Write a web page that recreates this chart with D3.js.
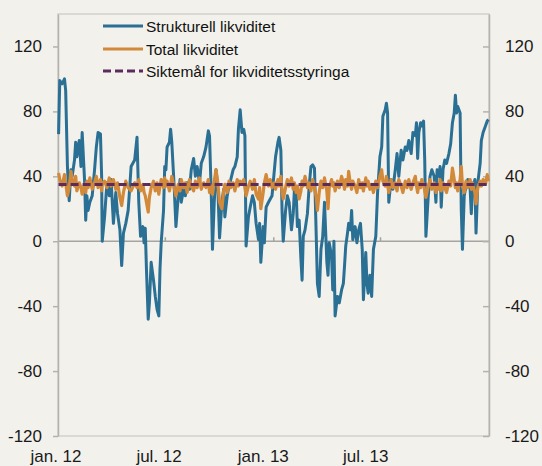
<!DOCTYPE html>
<html>
<head>
<meta charset="utf-8">
<script src="https://cdn.jsdelivr.net/npm/d3@7"></script>
<style>
  html, body { margin: 0; padding: 0; background: #f3f1ec; }
  svg { display: block; font-family: "Liberation Sans", Arial, sans-serif; }
</style>
</head>
<body>
<svg id="chart"></svg>
<script>
"use strict";

// dates of the observations
var dates = [
  "2012-01-02","2012-01-04","2012-01-08","2012-01-12","2012-01-14","2012-01-17","2012-01-20","2012-01-23","2012-01-25","2012-01-29",
  "2012-01-31","2012-02-02","2012-02-06","2012-02-09","2012-02-11","2012-02-15","2012-02-17","2012-02-19","2012-02-21","2012-02-24",
  "2012-02-28","2012-03-03","2012-03-06","2012-03-09","2012-03-13","2012-03-15","2012-03-16","2012-03-20","2012-03-24","2012-03-28",
  "2012-03-31","2012-04-04","2012-04-08","2012-04-11","2012-04-15","2012-04-18","2012-04-21","2012-04-25","2012-04-29","2012-05-04",
  "2012-05-10","2012-05-14","2012-05-17","2012-05-20","2012-05-24","2012-05-26","2012-05-28","2012-05-30","2012-06-02","2012-06-04",
  "2012-06-07","2012-06-11","2012-06-14","2012-06-17","2012-06-20","2012-06-22","2012-06-24","2012-06-28","2012-06-30","2012-07-02",
  "2012-07-04","2012-07-08","2012-07-10","2012-07-12","2012-07-16","2012-07-19","2012-07-23","2012-07-26","2012-07-28","2012-08-01",
  "2012-08-04","2012-08-07","2012-08-11","2012-08-14","2012-08-18","2012-08-21","2012-08-24","2012-08-28","2012-08-31","2012-09-04",
  "2012-09-08","2012-09-12","2012-09-14","2012-09-17","2012-09-19","2012-09-22","2012-09-25","2012-09-28","2012-10-01","2012-10-05",
  "2012-10-08","2012-10-10","2012-10-14","2012-10-17","2012-10-20","2012-10-24","2012-10-27","2012-10-31","2012-11-02","2012-11-05",
  "2012-11-08","2012-11-11","2012-11-13","2012-11-15","2012-11-19","2012-11-22","2012-11-26","2012-11-29","2012-12-02","2012-12-06",
  "2012-12-08","2012-12-10","2012-12-14","2012-12-16","2012-12-19","2012-12-23","2012-12-26","2012-12-29","2013-01-02","2013-01-04",
  "2013-01-08","2013-01-10","2013-01-13","2013-01-15","2013-01-17","2013-01-21","2013-01-24","2013-01-27","2013-01-31","2013-02-03",
  "2013-02-05","2013-02-08","2013-02-10","2013-02-13","2013-02-16","2013-02-18","2013-02-20","2013-02-23","2013-02-27","2013-03-02",
  "2013-03-05","2013-03-08","2013-03-11","2013-03-14","2013-03-16","2013-03-19","2013-03-22","2013-03-25","2013-03-28","2013-04-01",
  "2013-04-03","2013-04-05","2013-04-09","2013-04-11","2013-04-13","2013-04-15","2013-04-19","2013-04-22","2013-04-26","2013-04-29",
  "2013-05-01","2013-05-03","2013-05-06","2013-05-08","2013-05-11","2013-05-13","2013-05-15","2013-05-19","2013-05-22","2013-05-25",
  "2013-05-28","2013-05-31","2013-06-02","2013-06-06","2013-06-08","2013-06-10","2013-06-13","2013-06-16","2013-06-19","2013-06-23",
  "2013-06-26","2013-06-30","2013-07-03","2013-07-05","2013-07-09","2013-07-11","2013-07-13","2013-07-15","2013-07-19","2013-07-22",
  "2013-07-26","2013-07-29","2013-08-01","2013-08-05","2013-08-08","2013-08-12","2013-08-15","2013-08-18","2013-08-22","2013-08-25",
  "2013-08-29","2013-08-31","2013-09-02","2013-09-04","2013-09-07","2013-09-09","2013-09-12","2013-09-14","2013-09-16","2013-09-20",
  "2013-09-23","2013-09-26","2013-09-30","2013-10-03","2013-10-05","2013-10-08","2013-10-10","2013-10-12","2013-10-15","2013-10-18",
  "2013-10-21","2013-10-25","2013-10-28","2013-10-31","2013-11-03","2013-11-05","2013-11-07","2013-11-09","2013-11-13","2013-11-15",
  "2013-11-17","2013-11-20","2013-11-23","2013-11-26","2013-11-30","2013-12-02","2013-12-04","2013-12-08","2013-12-10","2013-12-13",
  "2013-12-17","2013-12-19","2013-12-22","2013-12-26","2013-12-29","2013-12-31"
];

// Strukturell likviditet, mrd. kroner
var strukturell = [
  66, 99, 97, 100, 93, 46, 25, 44, 40, 50,
  61, 52, 62, 46, 67, 38, 13, 28, 19, 24,
  28, 44, 58, 67, 66, 40, 0, 15, 36, 28,
  38, 11, 30, 17, 7, -15, 5, 11, 19, 46,
  50, 64, 24, 3, 9, -1, 8, -17, -48, -38,
  -13, -24, -34, -42, -46, -17, -1, 19, 46, 44,
  58, 61, 69, 61, 34, 9, 28, 38, 24, 32,
  28, 36, 32, 44, 51, 40, 46, 36, 48, 52,
  58, 68, 65, 28, -5, 24, 44, 34, 2, 24,
  32, 15, 28, 34, 38, 44, 46, 52, 69, 81,
  67, 69, 65, -3, 15, 21, 28, 24, 11, 1,
  11, -13, 9, -1, 21, 24, 26, 28, 44, 52,
  61, 64, 56, 19, 0, 19, 28, 24, 7, 17,
  32, 30, 9, 13, -11, -24, 3, 7, 17, 34,
  46, 47, 45, 3, -26, -34, -5, 3, 24, -13,
  -21, -1, -9, -30, 0, -46, -34, -38, -30, -26,
  -15, -3, 5, 11, 7, 19, 1, 9, -1, 7,
  11, -5, -36, -7, -26, -32, -21, -34, -5, 3,
  30, 52, 58, 77, 81, 85, 79, 24, 38, 32,
  44, 54, 40, 56, 50, 58, 56, 62, 54, 67,
  65, 73, 51, 67, 73, 71, 74, 50, 3, 28,
  40, 44, 40, 24, 44, 40, 46, 21, 44, 50,
  48, 54, 60, 73, 79, 90, 79, 83, 79, 19,
  -5, 28, 34, 38, 32, 17, 32, 38, 5, 36,
  48, 62, 67, 71, 74, 75
];

// Total likviditet, mrd. kroner
var total = [
  42, 38, 34, 41, 36, 28, 33, 43, 38, 34,
  40, 31, 36, 33, 29, 35, 30, 37, 33, 39,
  32, 36, 40, 33, 38, 31, 35, 37, 33, 39,
  34, 38, 32, 36, 27, 22, 30, 37, 33, 31,
  36, 33, 38, 31, 35, 30, 28, 24, 18, 27,
  33, 37, 31, 36, 29, 34, 38, 33, 39, 34,
  37, 31, 35, 40, 33, 28, 35, 31, 38, 33,
  36, 30, 38, 34, 31, 37, 33, 39, 32, 36,
  33, 38, 30, 34, 29, 37, 44, 36, 24, 20,
  31, 35, 30, 37, 33, 36, 31, 38, 34, 37,
  35, 38, 33, 28, 34, 37, 32, 38, 29, 26,
  33, 20, 30, 36, 41, 34, 38, 33, 36, 32,
  38, 34, 40, 31, 26, 33, 38, 34, 39, 32,
  36, 30, 34, 26, 31, 37, 34, 40, 33, 36,
  31, 38, 33, 27, 19, 30, 37, 33, 39, 31,
  20, 33, 38, 34, 36, 31, 37, 33, 40, 36,
  32, 38, 34, 43, 35, 32, 37, 34, 30, 38,
  33, 36, 31, 39, 34, 37, 32, 35, 30, 37,
  33, 40, 44, 37, 34, 40, 35, 30, 38, 33,
  36, 31, 38, 34, 30, 37, 33, 38, 32, 36,
  40, 34, 30, 36, 33, 38, 35, 31, 27, 34,
  38, 32, 36, 30, 35, 32, 38, 31, 36, 33,
  30, 37, 34, 45, 38, 33, 36, 31, 38, 46,
  34, 30, 37, 33, 38, 32, 36, 30, 23, 33,
  37, 34, 38, 35, 41, 37
];

// Siktemål for likviditetsstyringa
var siktemaal = 35;

var yTicks = [-120, -80, -40, 0, 40, 80, 120];
var xTicks = ["2012-01-01", "2012-07-01", "2013-01-01", "2013-07-01"];
var xTickLabels = ["jan. 12", "jul. 12", "jan. 13", "jul. 13"];

var seriesNames = ["Strukturell likviditet", "Total likviditet", "Siktemål for likviditetsstyringa"];
var colors = ["#2a6f94", "#d2893a", "#5c2b5e"];

var width = 542, height = 466;
var plot = { left: 58, right: 489, top: 14, bottom: 436 };

var parse = d3.timeParse("%Y-%m-%d");
var dateObjs = dates.map(parse);
var tickDates = xTicks.map(parse);

var svg = d3.select("#chart")
    .attr("width", width)
    .attr("height", height);

var x = d3.scaleTime()
    .domain([parse("2012-01-01"), parse("2014-01-01")])
    .range([plot.left, plot.right]);

// labels sit a little left of the ticks in the original
var xLabel = d3.scaleTime()
    .domain([parse("2012-01-01"), parse("2014-01-01")])
    .range([56, 470]);

var y = d3.scaleLinear()
    .domain([-120, 140])
    .range([plot.bottom, plot.top]);

// frame
svg.append("rect")
    .attr("x", plot.left)
    .attr("y", plot.top)
    .attr("width", plot.right - plot.left)
    .attr("height", plot.bottom - plot.top)
    .attr("fill", "none")
    .attr("stroke", "#d3d1cc")
    .attr("stroke-width", 1.5);

// zero line
svg.append("line")
    .attr("x1", plot.left).attr("x2", plot.right)
    .attr("y1", y(0)).attr("y2", y(0))
    .attr("stroke", "#a6a4a0")
    .attr("stroke-width", 1.5);

// x ticks on the zero line
svg.selectAll(".xtick")
    .data(tickDates.slice(1))
    .enter()
    .append("line")
    .attr("x1", function (d) { return x(d); })
    .attr("x2", function (d) { return x(d); })
    .attr("y1", y(0))
    .attr("y2", y(0) - 4)
    .attr("stroke", "#a6a4a0")
    .attr("stroke-width", 1.5);

// y axes, plain hyphen for negatives as in the original
var fmt = function (d) { return String(d); };

var leftAxis = svg.append("g")
    .attr("transform", "translate(" + plot.left + ",0)")
    .call(d3.axisLeft(y).tickValues(yTicks).tickFormat(fmt)
        .tickSize(5).tickPadding(11).tickSizeOuter(0));

var rightAxis = svg.append("g")
    .attr("transform", "translate(" + plot.right + ",0)")
    .call(d3.axisRight(y).tickValues(yTicks).tickFormat(fmt)
        .tickSize(-6).tickPadding(16).tickSizeOuter(0));

[leftAxis, rightAxis].forEach(function (g) {
    g.select(".domain").attr("stroke", "#b4b2ae").attr("stroke-width", 1.5);
    g.selectAll(".tick line").attr("stroke", "#b4b2ae").attr("stroke-width", 1.5);
    g.selectAll(".tick text")
        .attr("fill", "#1a1a1a")
        .style("font-size", "17px")
        .style("font-family", "'Liberation Sans', Arial, sans-serif");
});

// x labels
svg.selectAll(".xlabel")
    .data(tickDates)
    .enter()
    .append("text")
    .attr("x", function (d) { return xLabel(d); })
    .attr("y", 462)
    .attr("text-anchor", "middle")
    .attr("fill", "#1a1a1a")
    .style("font-size", "17px")
    .text(function (d, i) { return xTickLabels[i]; });

// lines
var line = function (values) {
    return d3.line()
        .x(function (d, i) { return x(dateObjs[i]); })
        .y(function (d) { return y(d); })(values);
};

svg.append("path")
    .attr("d", line(strukturell))
    .attr("fill", "none")
    .attr("stroke", colors[0])
    .attr("stroke-width", 3)
    .attr("stroke-linejoin", "round");

svg.append("path")
    .attr("d", line(total))
    .attr("fill", "none")
    .attr("stroke", colors[1])
    .attr("stroke-width", 3.2)
    .attr("stroke-linejoin", "round");

svg.append("line")
    .attr("x1", x(dateObjs[0]))
    .attr("x2", x(dateObjs[dateObjs.length - 1]))
    .attr("y1", y(siktemaal))
    .attr("y2", y(siktemaal))
    .attr("stroke", colors[2])
    .attr("stroke-width", 3)
    .attr("stroke-dasharray", "8,4");

// legend
var legend = svg.append("g");
var rows = [26, 49, 71];
seriesNames.forEach(function (name, i) {
    legend.append("line")
        .attr("x1", 103).attr("x2", 143)
        .attr("y1", rows[i]).attr("y2", rows[i])
        .attr("stroke", colors[i])
        .attr("stroke-width", 3)
        .attr("stroke-dasharray", i === 2 ? "8,4" : null);
    legend.append("text")
        .attr("x", 146)
        .attr("y", rows[i] + 5.5)
        .attr("fill", "#111")
        .style("font-size", "15.5px")
        .text(name);
});
</script>
</body>
</html>
